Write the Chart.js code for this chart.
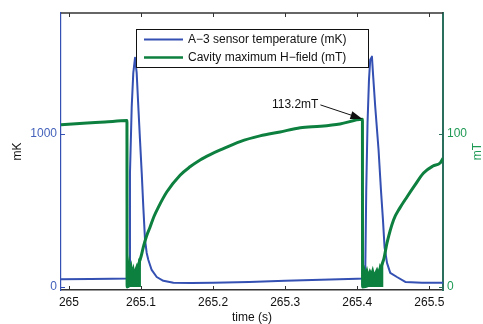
<!DOCTYPE html>
<html><head><meta charset="utf-8">
<script src="https://cdn.jsdelivr.net/npm/chart.js@4/dist/chart.umd.min.js"></script>
<style>html,body{margin:0;padding:0;background:#fff;overflow:hidden}#wrap{width:483px;height:324px;position:relative}</style>
</head><body><div id="wrap"><canvas id="c" width="483" height="324"></canvas></div>
<script>
// ---------- data ----------
const seriesLabels = ['A\u22123 sensor temperature (mK)', 'Cavity maximum H\u2212field (mT)'];
const xTicks = [265, 265.1, 265.2, 265.3, 265.4, 265.5];
const xTickLabels = ['265', '265.1', '265.2', '265.3', '265.4', '265.5'];
const leftTicks = [0, 1000];
const leftTickLabels = ['0', '1000'];
const rightTicks = [0, 100];
const rightTickLabels = ['0', '100'];

const tempTime = [264.989, 265.03, 265.06, 265.0824, 265.0838, 265.0847, 265.0871, 265.0893, 265.0917, 265.094, 265.0963, 265.0986, 265.101, 265.1032, 265.1056, 265.1079, 265.1102, 265.1148, 265.1218, 265.131, 265.145, 265.17, 265.2, 265.25, 265.3, 265.35, 265.4, 265.4083, 265.4111, 265.4125, 265.4143, 265.4163, 265.418, 265.4204, 265.422, 265.425, 265.4296, 265.4329, 265.4357, 265.4379, 265.4413, 265.4458, 265.4551, 265.4667, 265.49, 265.519];
const tempValue = [50, 52, 54, 55, 150, 745, 1176, 1399, 1497, 1399, 1176, 961, 745, 523, 307, 222, 176, 111, 65, 40, 28, 26, 27, 33, 40, 47, 54, 55, 80, 634, 1072, 1353, 1484, 1505, 1386, 1176, 895, 634, 438, 261, 157, 92, 65, 33, 28, 28];

const fieldTime = [264.989, 265.02, 265.05, 265.0805, 265.0807, 265.0999, 265.1032, 265.1075, 265.1125, 265.118, 265.124, 265.1357, 265.1542, 265.168, 265.182, 265.196, 265.21, 265.2375, 265.265, 265.293, 265.321, 265.349, 265.376, 265.4072, 265.4074, 265.4365, 265.4413, 265.4504, 265.459, 265.469, 265.48, 265.492, 265.505, 265.515, 265.519];
const fieldValue = [106, 107, 107.8, 108.7, 0, 19.6, 26, 33, 39, 46, 52, 62, 73, 78.5, 83, 86.5, 89.5, 95, 98.7, 101.3, 104, 105, 106.5, 109.5, 0, 17.6, 28.8, 43.8, 51.5, 58.8, 66.5, 74.5, 79, 81, 84];

// upper envelope of the noisy field bursts right after each quench (filled down to 0)
const burst1Time = [265.0807, 265.082, 265.0835, 265.085, 265.0865, 265.088, 265.0895, 265.091, 265.0925, 265.094, 265.0955, 265.097, 265.0985, 265.0999];
const burst1Value = [17, 14, 18, 12, 15, 10, 13, 9, 12, 14, 11, 17, 15, 20];
const burst2Time = [265.4075, 265.4095, 265.4115, 265.4135, 265.4155, 265.4175, 265.4195, 265.4215, 265.4235, 265.4255, 265.4275, 265.4295, 265.4315, 265.4335, 265.4355, 265.4365];
const burst2Value = [11, 13, 9, 12, 8, 11, 9, 12, 8, 10, 12, 9, 14, 12, 16, 17.6];

const annotationText = '113.2mT';
const annotationTime = 265.4072;
const annotationValue = 109.8;

// ---------- styles ----------
const FONT = "'Liberation Sans', Arial, Helvetica, sans-serif";
const BLUE = '#3350b2';
const BLUE_TXT = '#4462bb';
const GREEN = '#0d803f';
const GREEN_TXT = '#1f9a55';
const TEAL = '#2a6e5e';
const DARK = '#333333';

Chart.defaults.font.family = FONT;
Chart.defaults.font.size = 12;

const toXY = (t, v) => t.map((x, i) => ({x: x, y: v[i]}));

const deco = {
  id: 'deco',
  afterDraw(chart) {
    const {ctx, chartArea: a, scales} = chart;
    const line = (x1, y1, x2, y2) => { ctx.beginPath(); ctx.moveTo(x1, y1); ctx.lineTo(x2, y2); ctx.stroke(); };
    ctx.save();
    // top border
    ctx.strokeStyle = DARK; ctx.lineWidth = 1.5;
    line(a.left, a.top, a.right, a.top);
    // inward ticks
    ctx.lineWidth = 1;
    xTicks.forEach(v => {
      const px = Math.round(scales.x.getPixelForValue(v)) + 0.5;
      line(px, a.bottom, px, a.bottom - 4);
      line(px, a.top, px, a.top + 4);
    });
    ctx.strokeStyle = BLUE;
    leftTicks.forEach(v => { const py = Math.round(scales.yL.getPixelForValue(v)) + 0.5; line(a.left, py, a.left + 4, py); });
    ctx.strokeStyle = TEAL;
    rightTicks.forEach(v => { const py = Math.round(scales.yR.getPixelForValue(v)) + 0.5; line(a.right, py, a.right - 4, py); });
    // right axis title
    ctx.save();
    ctx.translate(478, (a.top + a.bottom) / 2);
    ctx.rotate(-Math.PI / 2);
    ctx.fillStyle = GREEN_TXT; ctx.font = '12px ' + FONT;
    ctx.textAlign = 'center'; ctx.textBaseline = 'middle';
    ctx.fillText('mT', 0, 0);
    ctx.restore();
    // annotation with arrow
    const tx = scales.x.getPixelForValue(annotationTime);
    const ty = scales.yR.getPixelForValue(annotationValue);
    const sx = tx - 42, sy = ty - 14;
    ctx.fillStyle = '#111'; ctx.font = '12px ' + FONT;
    ctx.textAlign = 'right'; ctx.textBaseline = 'middle';
    ctx.fillText(annotationText, sx - 2, sy);
    ctx.strokeStyle = '#111'; ctx.lineWidth = 1;
    const ang = Math.atan2(ty - sy, tx - sx);
    const hl = 12, hw = 4;
    const bx = tx - hl * Math.cos(ang), by = ty - hl * Math.sin(ang);
    line(sx, sy, bx, by);
    ctx.beginPath();
    ctx.moveTo(tx, ty);
    ctx.lineTo(bx + hw * Math.sin(ang), by - hw * Math.cos(ang));
    ctx.lineTo(bx - hw * Math.sin(ang), by + hw * Math.cos(ang));
    ctx.closePath(); ctx.fill();
    // legend
    const lx = 136, ly = 29, lw = 232, lh = 38;
    ctx.fillStyle = '#fff'; ctx.fillRect(lx, ly, lw, lh);
    ctx.strokeStyle = '#111'; ctx.lineWidth = 1;
    ctx.strokeRect(lx + 0.5, ly + 0.5, lw, lh);
    const ds = chart.data.datasets;
    [0, 1].forEach((k, i) => {
      const yy = ly + 10.5 + i * 18;
      ctx.strokeStyle = ds[k].borderColor; ctx.lineWidth = i === 0 ? 2 : 2.5;
      line(lx + 8, yy, lx + 47, yy);
      ctx.fillStyle = '#111'; ctx.textAlign = 'left'; ctx.textBaseline = 'middle';
      ctx.fillText(ds[k].label, lx + 52, yy);
    });
    ctx.restore();
  }
};

new Chart(document.getElementById('c'), {
  type: 'line',
  data: {
    datasets: [
      {label: seriesLabels[0], data: toXY(tempTime, tempValue), yAxisID: 'yL', borderColor: BLUE, borderWidth: 2, pointRadius: 0, tension: 0, borderJoinStyle: 'round', order: 3},
      {label: seriesLabels[1], data: toXY(fieldTime, fieldValue), yAxisID: 'yR', borderColor: GREEN, borderWidth: 3, pointRadius: 0, cubicInterpolationMode: 'monotone', borderJoinStyle: 'round', order: 0},
      {label: 'burst1', data: toXY(burst1Time, burst1Value), yAxisID: 'yR', borderColor: GREEN, backgroundColor: GREEN, borderWidth: 1.5, pointRadius: 0, tension: 0, fill: 'origin', order: 1},
      {label: 'burst2', data: toXY(burst2Time, burst2Value), yAxisID: 'yR', borderColor: GREEN, backgroundColor: GREEN, borderWidth: 1.5, pointRadius: 0, tension: 0, fill: 'origin', order: 2}
    ]
  },
  options: {
    responsive: false, animation: false, events: [],
    layout: {padding: {top: 13, left: 0, right: 0, bottom: 0}},
    plugins: {legend: {display: false}, tooltip: {enabled: false}},
    scales: {
      x: {
        type: 'linear', position: 'bottom', min: 264.989, max: 265.519,
        afterBuildTicks: s => { s.ticks = xTicks.map(v => ({value: v})); },
        afterFit: s => { s.height = 34; },
        ticks: {callback: (v, i) => xTickLabels[i], color: '#111', padding: 5, maxRotation: 0, autoSkip: false},
        grid: {display: false, drawTicks: false},
        border: {display: true, color: DARK, width: 1.5},
        title: {display: true, text: 'time (s)', color: '#111', font: {size: 12, lineHeight: 1}, padding: {top: 0, bottom: 0}}
      },
      yL: {
        type: 'linear', position: 'left', min: -20, max: 1790,
        afterBuildTicks: s => { s.ticks = leftTicks.map(v => ({value: v})); },
        afterFit: s => { s.width = 61; },
        ticks: {callback: (v, i) => leftTickLabels[i], color: BLUE_TXT, padding: 4},
        grid: {display: false, drawTicks: false},
        border: {display: true, color: BLUE, width: 1.2},
        title: {display: true, text: 'mK', color: '#111', font: {size: 12, lineHeight: 1.2}, padding: {top: 10, bottom: 0}}
      },
      yR: {
        type: 'linear', position: 'right', min: -2, max: 179,
        afterBuildTicks: s => { s.ticks = rightTicks.map(v => ({value: v})); },
        afterFit: s => { s.width = 40; },
        ticks: {callback: (v, i) => rightTickLabels[i], color: GREEN_TXT, padding: 4},
        grid: {display: false, drawTicks: false},
        border: {display: true, color: TEAL, width: 2}
      }
    }
  },
  plugins: [deco]
});
</script></body></html>
